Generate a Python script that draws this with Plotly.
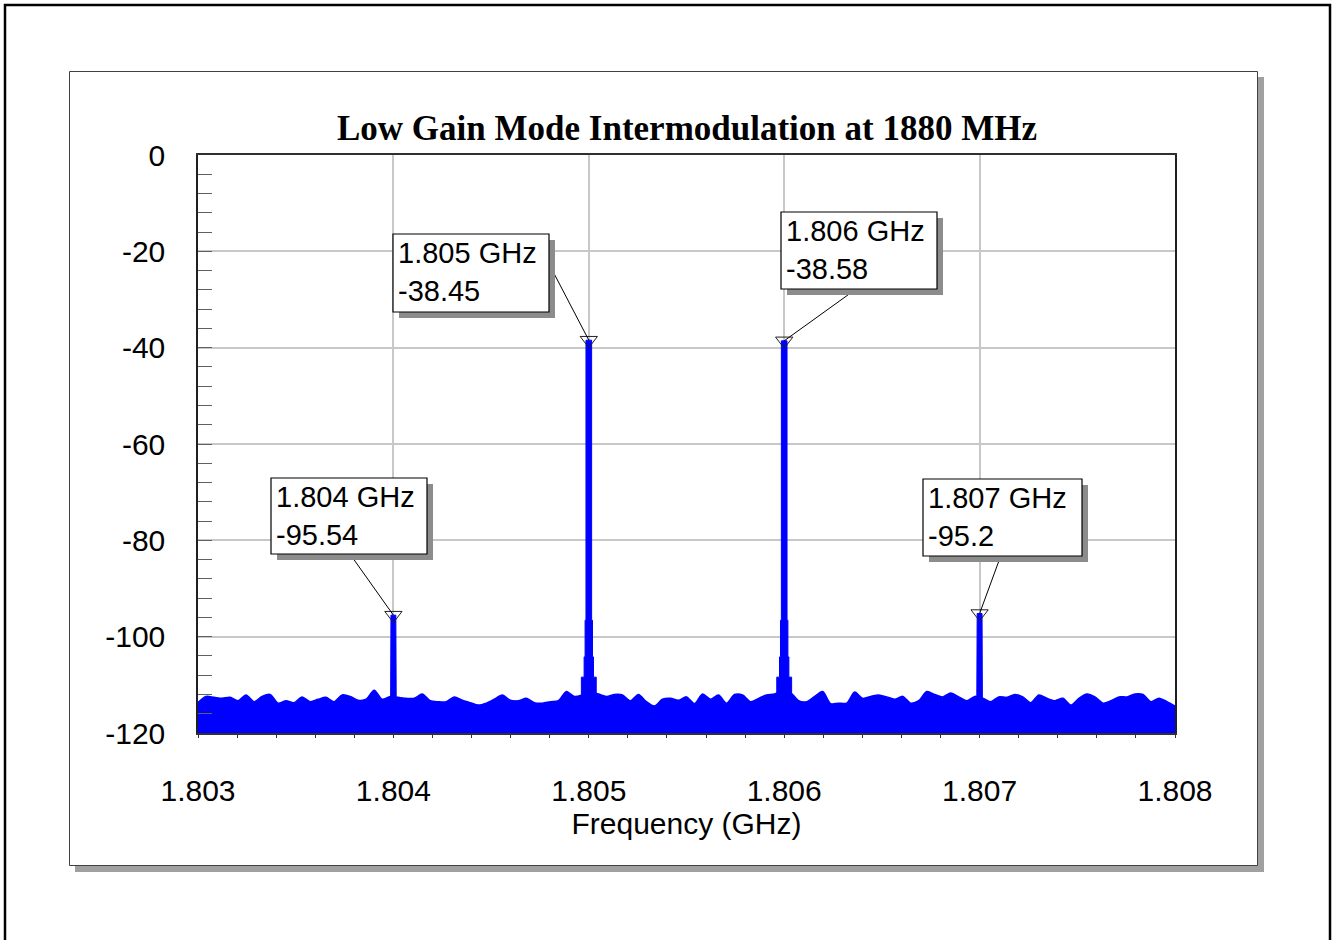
import numpy as np
import plotly.graph_objects as go

# ---------------- data ----------------
freq_min, freq_max = 1.803, 1.808
# noise-floor envelope (dB), read left to right across the span
noise_floor = [
    -113.7, -112.4, -112.6, -112.8, -112.6, -113.3, -112.1, -113.5, -112.4, -112.0,
    -113.8, -113.3, -113.7, -112.5, -113.5, -113.0, -112.6, -113.5, -112.1, -112.4,
    -113.2, -113.0, -111.1, -113.0, -112.4, -112.6, -112.8, -112.8, -111.9, -113.3,
    -113.5,
    -113.5, -112.5, -113.2, -113.7, -114.2, -113.8, -113.0, -112.1, -113.2, -113.3,
    -112.8, -113.7, -113.8, -113.5, -113.3, -111.4, -112.4, -112.1, -111.5, -111.9,
    -112.4, -112.0, -112.1, -113.3, -112.0, -113.5, -114.4, -113.0, -112.8, -113.2,
    -112.5,
    -113.9, -111.9, -113.0, -112.1, -113.8, -112.0, -112.1, -113.5, -112.8, -112.1,
    -111.9, -111.2, -111.6, -113.3, -113.5, -112.4, -111.4, -113.9, -113.8, -113.8,
    -111.5, -112.8, -112.4, -112.1, -112.5, -113.0, -112.4, -113.8, -113.3, -111.4,
    -112.0,
    -112.5, -111.7, -112.5, -113.3, -112.4, -112.8, -113.5, -112.5, -112.6, -112.0,
    -112.5, -113.7, -112.1, -112.8, -113.3, -112.8, -114.2, -112.8, -111.9, -112.5,
    -113.8, -113.3, -112.5, -112.5, -111.9, -112.0, -113.5, -112.8, -113.5, -114.4,
]
floor_level = -120.0

peak_freqs = [1.804, 1.805, 1.806, 1.807]
peak_levels = [-95.54, -38.45, -38.58, -95.2]
peak_labels = ["1.804 GHz<br>-95.54", "1.805 GHz<br>-38.45",
               "1.806 GHz<br>-38.58", "1.807 GHz<br>-95.2"]
# skirt of each tone: half-widths (GHz) and the level reached at each step (dB)
carrier_skirt_halfwidth = [3.8e-5, 2.4e-5, 1.9e-5, 1.45e-5]
carrier_skirt_level = [-108.4, -104.2, -96.6]
im_skirt_halfwidth = [1.5e-5, 1.25e-5]
im_skirt_level = [-110.5]

x_ticks = [1.803, 1.804, 1.805, 1.806, 1.807, 1.808]
x_tick_text = ["1.803", "1.804", "1.805", "1.806", "1.807", "1.808"]
y_ticks = [0, -20, -40, -60, -80, -100, -120]
y_tick_text = ["0", "-20", "-40", "-60", "-80", "-100", "-120"]

# ---------------- layout geometry (pixels) ----------------
W, H = 1335, 940
PL, PR, PT, PB = 198, 1175, 155, 733


def px(x):
    return (x - PL) / (PR - PL)


def py(y):
    return (PB - y) / (PB - PT)


BLUE = "#0000ff"
SANS = "Liberation Sans, Arial, sans-serif"
SERIF = "Liberation Serif, Times New Roman, serif"

fig = go.Figure()

freqs = np.linspace(freq_min, freq_max, len(noise_floor))
fig.add_trace(go.Scatter(x=freqs, y=[floor_level] * len(freqs), mode="lines",
                         line=dict(width=0, color=BLUE), hoverinfo="skip", showlegend=False))
fig.add_trace(go.Scatter(x=freqs, y=noise_floor, mode="lines", line_shape="spline",
                         line=dict(width=1.5, color=BLUE, smoothing=0.8), fill="tonexty",
                         fillcolor=BLUE, showlegend=False))


def tone_polygon(f, peak, halfw, levels):
    lv = list(levels) + [peak]
    xs, ys = [f - halfw[0]], [floor_level]
    for i, h in enumerate(halfw):
        xs += [f - h, f - h]
        ys += [ys[-1], lv[i]]
    rx = [2 * f - v for v in xs[::-1]]
    ry = ys[::-1]
    return xs + rx, ys + ry


for f, lvl in zip(peak_freqs, peak_levels):
    if lvl > -60:
        hw, lv = carrier_skirt_halfwidth, carrier_skirt_level
    else:
        hw, lv = im_skirt_halfwidth, im_skirt_level
    xs, ys = tone_polygon(f, lvl, hw, lv)
    fig.add_trace(go.Scatter(x=xs, y=ys, mode="lines", fill="toself", fillcolor=BLUE,
                             line=dict(width=1, color=BLUE), showlegend=False))

# marker triangles
fig.add_trace(go.Scatter(x=peak_freqs, y=peak_levels, mode="markers",
                         marker=dict(symbol="triangle-down-open", size=15,
                                     color="#202020", line=dict(width=1)),
                         showlegend=False))

shapes = []
# outer border
shapes.append(dict(type="rect", xref="paper", yref="paper", layer="below",
                   x0=px(5), x1=px(1330), y0=py(5), y1=py(950),
                   line=dict(color="black", width=2.5), fillcolor="rgba(0,0,0,0)"))
# panel shadow + panel
shapes.append(dict(type="rect", xref="paper", yref="paper", layer="below",
                   x0=px(75), x1=px(1264), y0=py(77), y1=py(872),
                   line=dict(width=0), fillcolor="#a0a0a0"))
shapes.append(dict(type="rect", xref="paper", yref="paper", layer="below",
                   x0=px(69.5), x1=px(1257.5), y0=py(71.5), y1=py(865.5),
                   line=dict(color="#404040", width=1), fillcolor="white"))

# callout boxes: (left, top) in pixels, leader-line offset (dx, dy) from peak in pixels
boxes = [
    dict(left=271, top=478, w=156, h=76, dx=-49, dy=69),
    dict(left=393, top=234, w=156, h=78, dx=-49, dy=94),
    dict(left=781, top=212, w=156, h=77, dx=75, dy=54),
    dict(left=923, top=479, w=159, h=77, dx=22, dy=60),
]
for b, f, lvl in zip(boxes, peak_freqs, peak_levels):
    shapes.append(dict(type="line", xref="x", yref="y", layer="above",
                       xsizemode="pixel", ysizemode="pixel", xanchor=f, yanchor=lvl,
                       x0=0, y0=0, x1=b["dx"], y1=b["dy"],
                       line=dict(color="black", width=1)))
for b in boxes:
    shapes.append(dict(type="rect", xref="paper", yref="paper", layer="above",
                       x0=px(b["left"] + 6), x1=px(b["left"] + b["w"] + 6),
                       y0=py(b["top"] + 6), y1=py(b["top"] + b["h"] + 6),
                       line=dict(width=0), fillcolor="#8c8c8c"))
    shapes.append(dict(type="rect", xref="paper", yref="paper", layer="above",
                       x0=px(b["left"]), x1=px(b["left"] + b["w"]),
                       y0=py(b["top"]), y1=py(b["top"] + b["h"]),
                       line=dict(color="black", width=1.2), fillcolor="white"))

annotations = []
for b, txt in zip(boxes, peak_labels):
    annotations.append(dict(xref="paper", yref="paper", x=px(b["left"] + 3),
                            y=py(b["top"] + 1), xanchor="left", yanchor="top",
                            text=txt, align="left", showarrow=False,
                            font=dict(family=SANS, size=29, color="black")))
annotations.append(dict(xref="paper", yref="paper", x=px(687), y=py(128),
                        xanchor="center", yanchor="middle", showarrow=False,
                        text="<b>Low Gain Mode Intermodulation at 1880 MHz</b>",
                        font=dict(family=SERIF, size=35, color="black")))

fig.update_layout(
    width=W, height=H, autosize=False,
    margin=dict(l=PL, r=W - PR, t=PT, b=H - PB, pad=0),
    paper_bgcolor="white", plot_bgcolor="white",
    shapes=shapes, annotations=annotations, showlegend=False,
    xaxis=dict(range=[freq_min, freq_max], tickvals=x_ticks, ticktext=x_tick_text,
               showgrid=True, gridcolor="#c8c8c8", gridwidth=1.5, zeroline=False,
               showline=True, linecolor="#303030", linewidth=2, mirror=True,
               ticks="outside", ticklen=3, tickcolor="#303030", ticklabelstandoff=27,
               minor=dict(dtick=0.0002, ticks="outside", ticklen=3, tickcolor="#303030",
                          showgrid=False),
               tickfont=dict(family=SANS, size=30, color="black"),
               title=dict(text="Frequency (GHz)", standoff=3,
                          font=dict(family=SANS, size=30, color="black"))),
    yaxis=dict(range=[-120, 0], tickvals=y_ticks, ticktext=y_tick_text, showgrid=True,
               gridcolor="#c8c8c8", gridwidth=1.5, zeroline=False, showline=True,
               linecolor="#202020", linewidth=1.5, mirror=True, ticks="inside",
               ticklen=14, tickcolor="#606060", ticklabelstandoff=25,
               minor=dict(dtick=4, ticks="inside", ticklen=14, tickcolor="#606060",
                          showgrid=False),
               tickfont=dict(family=SANS, size=30, color="black")),
)

fig.write_html("out.html")
